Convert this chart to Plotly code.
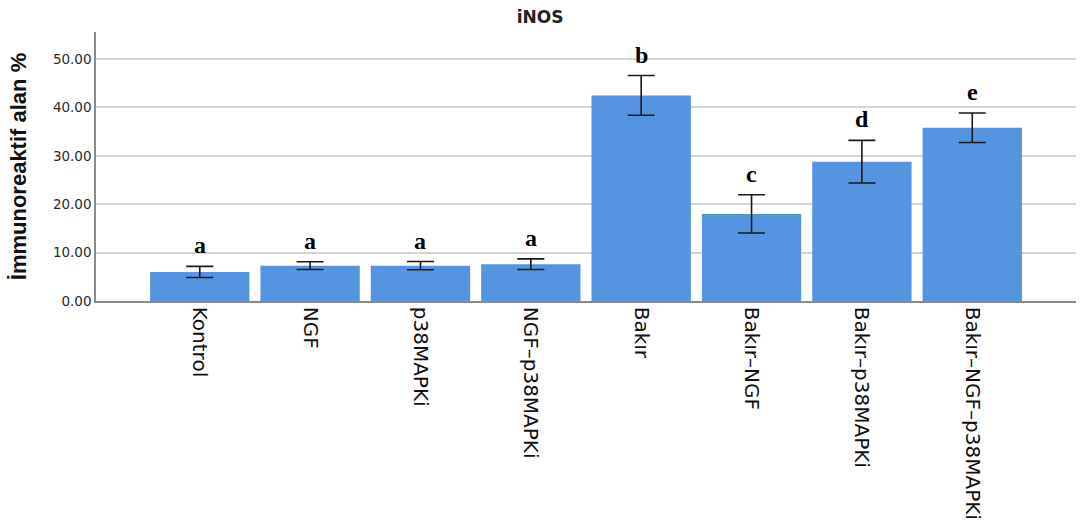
import plotly.graph_objects as go

# Groups, mean immunoreactive area (%), error and significance letters
groups = ["Kontrol", "NGF", "p38MAPKi", "NGF–p38MAPKi", "Bakır",
          "Bakır–NGF", "Bakır–p38MAPKi", "Bakır–NGF–p38MAPKi"]
means = [6.0, 7.3, 7.3, 7.6, 42.5, 18.0, 28.8, 35.8]
errors = [1.15, 0.8, 0.85, 1.1, 4.1, 3.95, 4.4, 3.05]
letters = ["a", "a", "a", "a", "b", "c", "d", "e"]
y_ticks = [0, 10, 20, 30, 40, 50]

fig = go.Figure()
fig.add_trace(go.Bar(
    x=groups,
    y=means,
    width=0.9,
    marker=dict(color="#5594E1", line=dict(width=0)),
    error_y=dict(type="data", array=errors, visible=True,
                 color="#1a1a1a", thickness=1.6, width=13.5),
    hoverinfo="skip",
))

# Significance letters above each error bar
for g, m, e, t in zip(groups, means, errors, letters):
    fig.add_annotation(
        x=g, y=m + e, text=f"<b>{t}</b>", showarrow=False,
        yanchor="bottom", yshift=6,
        font=dict(family="Liberation Serif", size=24, color="#000000"),
    )

fig.update_layout(
    width=1080, height=531,
    margin=dict(l=96, r=4, t=32, b=230),
    paper_bgcolor="white", plot_bgcolor="white",
    showlegend=False,
    title=dict(text="<b>iNOS</b>", x=0.5, xref="container", xanchor="center",
               y=1 - 17 / 531, yref="container", yanchor="middle",
               font=dict(family="DejaVu Sans", size=17, color="#222222")),
    xaxis=dict(
        range=[-0.94, 7.94], tickangle=90, showgrid=False,
        showline=True, linecolor="#8a8a8a", linewidth=1.5,
        ticks="", tickfont=dict(family="DejaVu Sans", size=20, color="#111111"),
    ),
    yaxis=dict(
        range=[0, 55.6], tickvals=y_ticks, tickformat=".2f",
        showgrid=True, gridcolor="#d4d4d4", gridwidth=1.5,
        showline=True, linecolor="#8a8a8a", linewidth=1.5,
        ticks="", zeroline=False,
        tickfont=dict(family="DejaVu Sans", size=13.5, color="#2a2a2a"),
        title=dict(text="<b>İmmunoreaktif alan %</b>", standoff=20,
                   font=dict(family="Liberation Sans", size=22, color="#111111")),
    ),
)

fig.write_html("out.html")
